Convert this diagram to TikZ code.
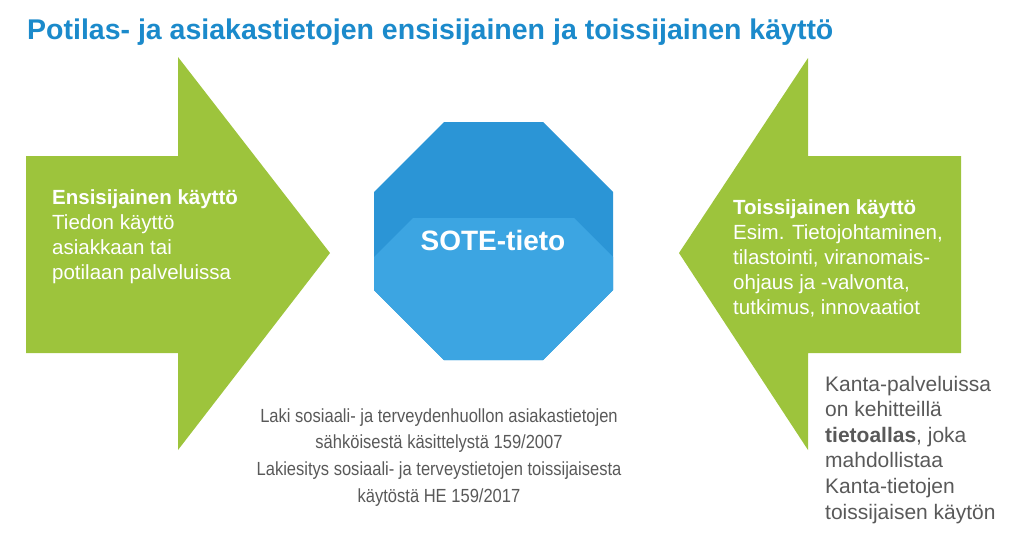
\documentclass[tikz,border=0pt]{standalone}
\usepackage{fontspec}
\setmainfont{Liberation Sans}
\newfontfamily\narrowfont{Liberation Sans}[FakeStretch=0.87]
\definecolor{sotegreen}{HTML}{9DC43C}
\definecolor{soteblue}{HTML}{2B95D6}
\definecolor{sotelight}{HTML}{3CA5E2}
\definecolor{titleblue}{HTML}{1B8ACB}
\definecolor{notegray}{HTML}{595959}
\tikzset{
  bigarrow/.style={fill=sotegreen, draw=none},
  arrowtext/.style={draw=none, align=left, text=white, inner sep=0pt, anchor=base west,
    font=\fontsize{20.5}{24.8}\selectfont},
  notetext/.style={draw=none, text=notegray, inner sep=0pt, anchor=base}
}
\begin{document}
\begin{tikzpicture}[x=1pt, y=-1pt]
    \useasboundingbox (0,0) rectangle (1023,544);

    % title
    \node [draw=none, anchor=base west, inner sep=0pt, text=titleblue, font=\bfseries\fontsize{28.5}{30}\selectfont, name=title] at (27,39) {Potilas- ja asiakastietojen ensisijainen ja toissijainen käyttö};

    % ensisijainen - left arrow
    \fill [bigarrow] (26,156) -- (178,156) -- (178,57) -- (330,253) -- (178,450) -- (178,353) -- (26,353) -- cycle;
    \node [arrowtext, name=e1] at (52,279) {\textbf{Ensisijainen käyttö}\\Tiedon käyttö\\asiakkaan tai\\potilaan palveluissa};

    % toissijainen - right arrow
    \fill [bigarrow] (961,156) -- (808,156) -- (808,58) -- (679,253) -- (808,450) -- (808,353) -- (961,353) -- cycle;
    \node [arrowtext, name=t1] at (733,314) {\textbf{Toissijainen käyttö}\\Esim. Tietojohtaminen,\\tilastointi, viranomais-\\ohjaus ja -valvonta,\\tutkimus, innovaatiot};

    % SOTE-tieto octagon
    \fill [soteblue] (444,122) -- (543,122) -- (613,192) -- (613,290) -- (543,360) -- (444,360) -- (374,290) -- (374,192) -- cycle;
    \fill [sotelight] (374,257) -- (413,218) -- (574,218) -- (613,257) -- (613,290) -- (543,360) -- (444,360) -- (374,290) -- cycle;
    \node [draw=none, text=white, font=\bfseries\fontsize{28}{30}\selectfont, name=s1] at (493,240) {SOTE-tieto};

    % laki
    \node [notetext, align=center, font=\narrowfont\fontsize{19}{26.6}\selectfont, name=l1] at (439,502) {Laki sosiaali- ja terveydenhuollon asiakastietojen\\sähköisestä käsittelystä 159/2007\\Lakiesitys sosiaali- ja terveystietojen toissijaisesta\\käytöstä HE 159/2017};

    % tietoallas
    \node [notetext, align=left, anchor=base west, font=\fontsize{21}{25.6}\selectfont, name=k1] at (825,519) {Kanta-palveluissa\\on kehitteillä\\\textbf{tietoallas}, joka\\mahdollistaa\\Kanta-tietojen\\toissijaisen käytön};
\end{tikzpicture}
\end{document}
